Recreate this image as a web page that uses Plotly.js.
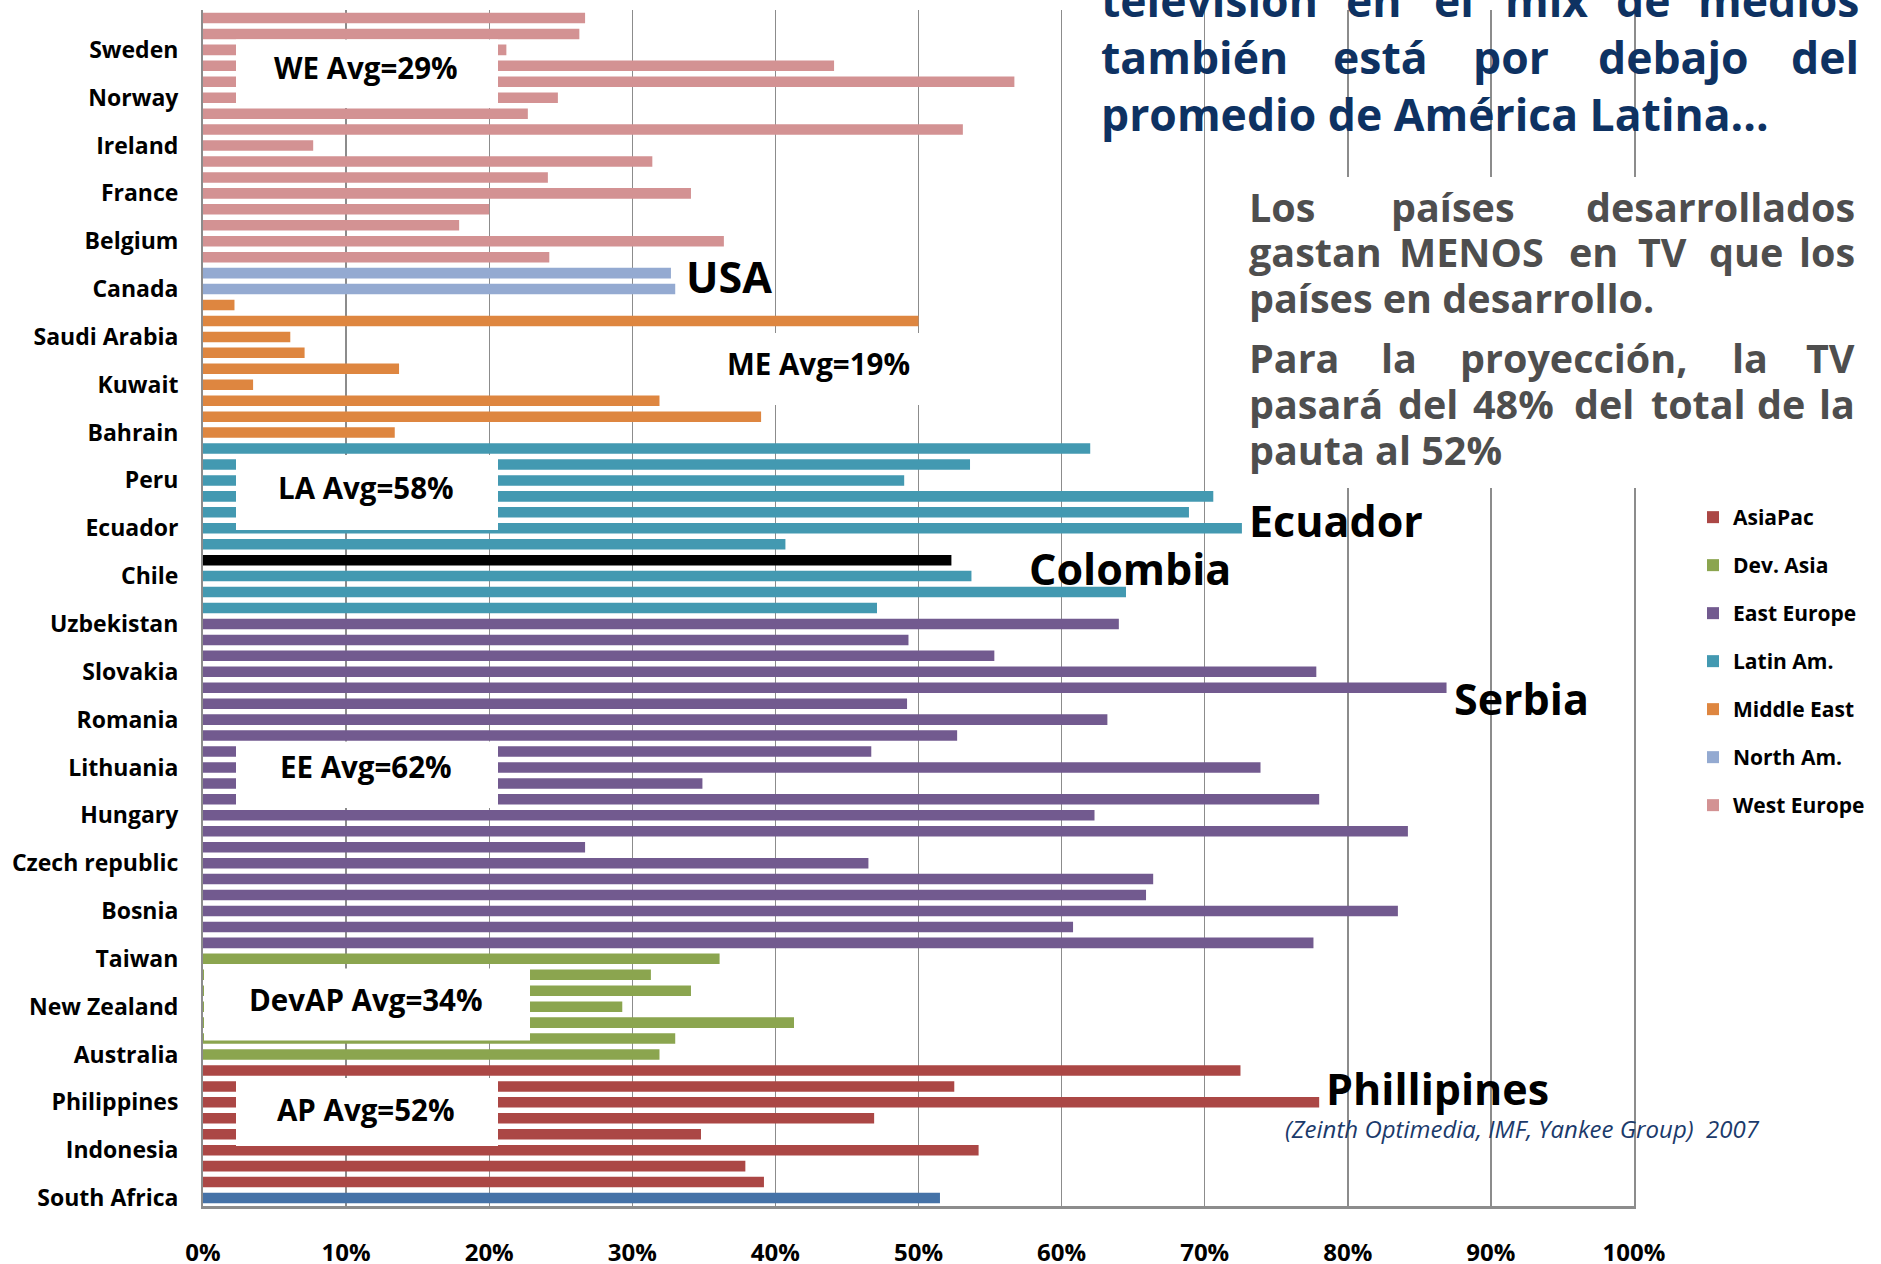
<!DOCTYPE html>
<html>
<head>
<meta charset="utf-8">
<script src="https://cdn.plot.ly/plotly-3.0.1.min.js"></script>
<style>
html,body{margin:0;padding:0;background:#fff;}
#chart{width:1881px;height:1264px;}
</style>
</head>
<body>
<div id="chart"></div>
<script>
// ---------------- DATA (bottom to top) ----------------
const saNames = ['South Africa'];
const saValues = [51.5];

const apNames = ['AP 1','AP 2','Indonesia','AP 4','AP 5','Philippines','AP 7','AP 8'];
const apValues = [39.2, 37.9, 54.2, 34.8, 46.9, 78.0, 52.5, 72.5];

const daNames = ['Australia','DA 2','DA 3','New Zealand','DA 5','DA 6','Taiwan'];
const daValues = [31.9, 33.0, 41.3, 29.3, 34.1, 31.3, 36.1];

const eeNames = ['EE 1','EE 2','Bosnia','EE 4','EE 5','Czech republic','EE 7','EE 8','Hungary','EE 10','EE 11','Lithuania','EE 13','EE 14','Romania','EE 16','Serbia','Slovakia','EE 19','EE 20','Uzbekistan'];
const eeValues = [77.6, 60.8, 83.5, 65.9, 66.4, 46.5, 26.7, 84.2, 62.3, 78.0, 34.9, 73.9, 46.7, 52.7, 63.2, 49.2, 86.9, 77.8, 55.3, 49.3, 64.0];

const laNames = ['LA 1','LA 2','Chile','Colombia','LA 5','Ecuador','LA 7','LA 8','Peru','LA 10','LA 11'];
const laValues = [47.1, 64.5, 53.7, 52.3, 40.7, 72.6, 68.9, 70.6, 49.0, 53.6, 62.0];

const meNames = ['Bahrain','ME 2','ME 3','Kuwait','ME 5','ME 6','Saudi Arabia','ME 8','ME 9'];
const meValues = [13.4, 39.0, 31.9, 3.5, 13.7, 7.1, 6.1, 50.0, 2.2];

const naNames = ['Canada','USA'];
const naValues = [33.0, 32.7];

const weNames = ['WE 1','Belgium','WE 3','WE 4','France','WE 6','WE 7','Ireland','WE 9','WE 10','Norway','WE 12','WE 13','Sweden','WE 15','WE 16'];
const weValues = [24.2, 36.4, 17.9, 20.0, 34.1, 24.1, 31.4, 7.7, 53.1, 22.7, 24.8, 56.7, 44.1, 21.2, 26.3, 26.7];

const tickLabels = ['South Africa','Indonesia','Philippines','Australia','New Zealand','Taiwan','Bosnia','Czech republic','Hungary','Lithuania','Romania','Slovakia','Uzbekistan','Chile','Ecuador','Peru','Bahrain','Kuwait','Saudi Arabia','Canada','Belgium','France','Ireland','Norway','Sweden'];
const xTicks = [0,10,20,30,40,50,60,70,80,90,100];
const xTickText = ['0%','10%','20%','30%','40%','50%','60%','70%','80%','90%','100%'];
const highlighted = 'Colombia';

const averageTexts = ['WE Avg=29%','ME Avg=19%','LA Avg=58%','EE Avg=62%','DevAP Avg=34%','AP Avg=52%'];

// ---------------- LAYOUT HELPERS ----------------
const W = 1881, H = 1264;
const L = 203, R = 1634, T = 10, B = 1206;
const px = x => (x - L) / (R - L);
const py = y => (B - y) / (B - T);

const FONT = '"Open Sans", Lato, "DejaVu Sans", sans-serif';
const categories = [].concat(saNames, apNames, daNames, eeNames, laNames, meNames, naNames, weNames);

function barTrace(name, names, values, color, showlegend) {
  return {
    type: 'bar', orientation: 'h', name: name,
    y: names, x: values,
    marker: {color: color, line: {width: 0}},
    showlegend: showlegend, legendgroup: name,
    hoverinfo: 'y+x'
  };
}

const laKeepIdx = laNames.map((n,i)=>i).filter(i => laNames[i] !== highlighted);
const laHiIdx = laNames.map((n,i)=>i).filter(i => laNames[i] === highlighted);

const traces = [
  barTrace('AsiaPac', apNames, apValues, '#AB4745', true),
  barTrace('Dev. Asia', daNames, daValues, '#8BA54F', true),
  barTrace('East Europe', eeNames, eeValues, '#725A8F', true),
  barTrace('Latin Am.', laKeepIdx.map(i=>laNames[i]), laKeepIdx.map(i=>laValues[i]), '#4399B1', true),
  barTrace('Middle East', meNames, meValues, '#DE8640', true),
  barTrace('North Am.', naNames, naValues, '#94AAD1', true),
  barTrace('West Europe', weNames, weValues, '#D39293', true),
  barTrace('South Africa', saNames, saValues, '#4572A7', false),
  barTrace(highlighted, laHiIdx.map(i=>laNames[i]), laHiIdx.map(i=>laValues[i]), '#000000', false)
];

// white boxes (pixel rectangles)
const boxes = [
  [236, 39.5, 498, 108],
  [690, 333, 945, 405],
  [236, 455, 498, 530],
  [236, 741.5, 498, 808],
  [204, 968.5, 530, 1040.5],
  [236, 1078, 498, 1146],
  [1240, 177, 1878, 488]
];
const boxTextPos = [[366,67.6],[818,363.6],[366,487.6],[366,766.6],[366,999.6],[366,1109.6]];

const shapes = boxes.map(b => ({
  type:'rect', xref:'paper', yref:'paper', layer:'above',
  x0:px(b[0]), x1:px(b[2]), y0:py(b[3]), y1:py(b[1]),
  fillcolor:'#ffffff', line:{width:0}
}));

const annotations = [];
function txt(text, x, baseline, size, color, opts) {
  opts = opts || {};
  annotations.push({
    text: text, xref:'paper', yref:'paper',
    x: px(x), y: py(baseline - 0.375*size),
    xanchor: opts.anchor || 'left', yanchor:'middle',
    showarrow:false,
    font:{family:FONT, size:size, color:color, weight: opts.weight || 'bold', style: opts.style || 'normal'}
  });
}

averageTexts.forEach((t,i) => {
  annotations.push({
    text:t, xref:'paper', yref:'paper',
    x:px(boxTextPos[i][0]), y:py(boxTextPos[i][1]), xanchor:'center', yanchor:'middle',
    showarrow:false, font:{family:FONT, size:29.5, color:'#000', weight:'bold'}
  });
});

// big callouts
const cSize = 43;
txt('USA', 684, 293, cSize, '#000');
txt('Ecuador', 1247, 537, cSize, '#000');
txt('Colombia', 1027, 585, cSize, '#000');
txt('Serbia', 1452, 715, cSize, '#000');
txt('Phillipines', 1324, 1105, cSize, '#000');
txt('(Zeinth Optimedia, IMF, Yankee Group)\u00a0 2007', 1283, 1137, 24, '#1B3A6B', {weight:'normal', style:'italic'});

// title (justified, word by word)
const navy = '#0E3262';
const tSize = 44.5;
[['televisión',1099],['en',1344],['el',1431.6],['mix',1503],['de',1614.4]].forEach(w=>txt(w[0], w[1], 16.3, tSize, navy));
txt('medios', 1861, 16.3, tSize, navy, {anchor:'right'});
[['también',1099],['está',1331],['por',1471.3],['debajo',1595.8]].forEach(w=>txt(w[0], w[1], 73.3, tSize, navy));
txt('del', 1861, 73.3, tSize, navy, {anchor:'right'});
txt('promedio de América Latina...', 1099, 130, tSize, navy);

// grey paragraphs
const grey = '#4E4E4E';
const gSize = 39.5;
[['Los',1247],['países',1389.2]].forEach(w=>txt(w[0], w[1], 221.7, gSize, grey));
txt('desarrollados', 1856.6, 221.7, gSize, grey, {anchor:'right'});
[['gastan',1247],['MENOS',1397],['en',1566.7],['TV',1635.6],['que',1707]].forEach(w=>txt(w[0], w[1], 266.7, gSize, grey));
txt('los', 1856.6, 266.7, gSize, grey, {anchor:'right'});
txt('países en desarrollo.', 1247, 313.3, gSize, grey);
[['Para',1247],['la',1378.6],['proyección,',1458],['la',1730]].forEach(w=>txt(w[0], w[1], 373.3, gSize, grey));
txt('TV', 1856.6, 373.3, gSize, grey, {anchor:'right'});
[['pasará',1247],['del',1395.5],['48%',1471.3],['del',1572],['total',1648.8],['de',1754.8]].forEach(w=>txt(w[0], w[1], 419.3, gSize, grey));
txt('la', 1856.6, 419.3, gSize, grey, {anchor:'right'});
txt('pauta al 52%', 1247, 465, gSize, grey);

const layout = {
  width: W, height: H,
  margin: {l: L, r: W - R, t: T, b: H - B, pad: 0},
  paper_bgcolor: '#ffffff', plot_bgcolor: '#ffffff',
  barmode: 'overlay', bargap: 0.34,
  font: {family: FONT, color: '#000'},
  showlegend: true,
  legend: {
    x: px(1693), y: py(497), xanchor: 'left', yanchor: 'top',
    bgcolor: 'rgba(0,0,0,0)', borderwidth: 0,
    traceorder: 'grouped', tracegroupgap: 17.7,
    font: {family: FONT, size: 21, color: '#000', weight: 'bold'}
  },
  xaxis: {
    range: [0, 100], tickmode: 'array', tickvals: xTicks, ticktext: xTickText,
    showgrid: true, gridcolor: '#8C8C8C', gridwidth: 1.4,
    zeroline: false, showline: true, linecolor: '#8C8C8C', linewidth: 2.5,
    ticks: '', ticklabelstandoff: 24,
    tickfont: {family: FONT, size: 24, color: '#000', weight: 'bold'},
    fixedrange: true
  },
  yaxis: {
    type: 'category', categoryorder: 'array', categoryarray: categories,
    range: [-0.5, categories.length - 0.5],
    tickmode: 'array', tickvals: tickLabels, ticktext: tickLabels,
    showgrid: false, zeroline: false, showline: true, mirror: true,
    linecolor: '#8C8C8C', linewidth: 2,
    ticks: '', ticklabelstandoff: 18,
    tickfont: {family: FONT, size: 23, color: '#000', weight: 'bold'},
    fixedrange: true
  },
  shapes: shapes,
  annotations: annotations
};

Plotly.newPlot('chart', traces, layout, {displayModeBar: false, staticPlot: true});
</script>
</body>
</html>
